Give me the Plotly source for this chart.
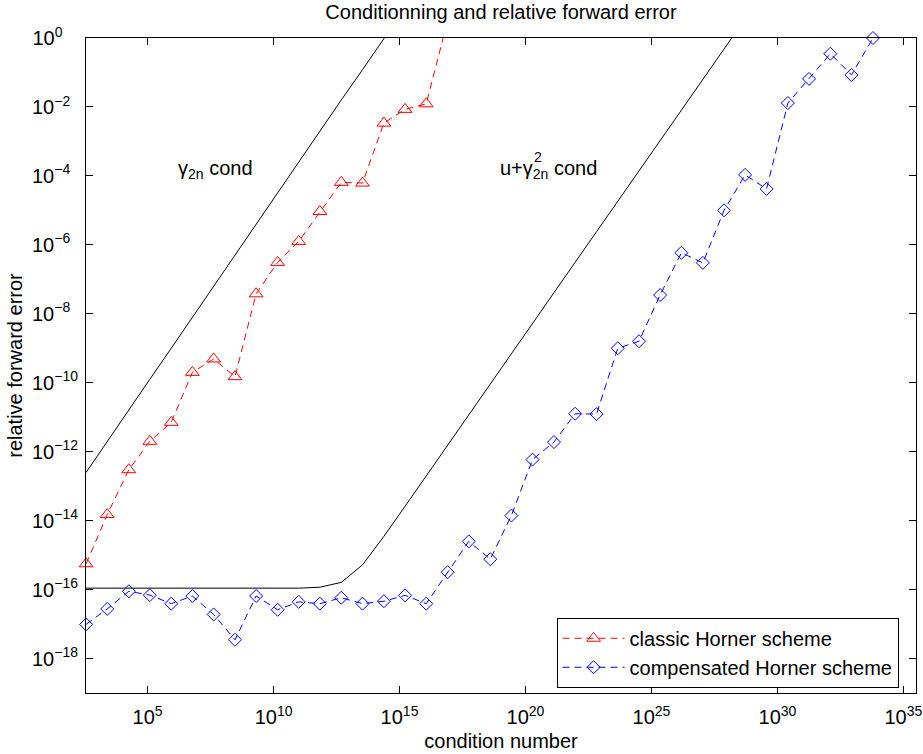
import plotly.graph_objects as go

# condition numbers (x)
cond = [3.63e2, 2.5e3, 1.8e4, 1.23e5, 8.7e5, 6.0e6, 4.2e7, 2.95e8, 2.04e9, 1.45e10,
        1.0e11, 6.9e11, 4.9e12, 3.4e13, 2.4e14, 1.66e15, 1.15e16, 8.1e16, 5.6e17, 4.0e18,
        2.75e19, 1.9e20, 1.35e21, 9.3e21, 6.6e22, 4.6e23, 3.2e24, 2.2e25, 1.55e26, 1.1e27,
        7.6e27, 5.2e28, 3.7e29, 2.6e30, 1.8e31, 1.26e32, 8.7e32, 6.2e33]

# classic Horner scheme relative forward error
classic_err = [5.6e-16, 1.5e-14, 3.0e-13, 2.0e-12, 7.1e-12, 2.0e-10, 4.9e-10, 1.5e-10,
               3.8e-8, 3.1e-7, 1.26e-6, 9.3e-6, 6.5e-5, 6.2e-5, 3.4e-3, 8.5e-3, 1.23e-2, 3.2e0]

# compensated Horner scheme relative forward error
comp_err = [9.8e-18, 2.75e-17, 8.9e-17, 6.9e-17, 3.9e-17, 6.5e-17, 1.9e-17, 3.5e-18,
            6.5e-17, 2.6e-17, 4.4e-17, 3.9e-17, 5.8e-17, 3.9e-17, 4.6e-17, 6.8e-17,
            3.9e-17, 3.2e-16, 2.5e-15, 7.6e-16, 1.4e-14, 5.9e-13, 1.9e-12, 1.26e-11,
            1.23e-11, 1.0e-9, 1.6e-9, 3.5e-8, 5.9e-7, 3.0e-7, 1.0e-5, 1.07e-4, 4.2e-5,
            1.3e-2, 6.5e-2, 3.5e-1, 8.5e-2, 1.0e0]

# a priori bounds
bound_gamma = [2.5e-13, 2.0e-12, 1.6e-11, 1.26e-10, 1.0e-9, 7.9e-9, 6.3e-8, 5.1e-7,
               4.0e-6, 3.2e-5, 2.5e-4, 1.95e-3, 1.6e-2, 1.2e-1, 9.8e-1, 7.6e0]
bound_comp = [1.1e-16, 1.1e-16, 1.1e-16, 1.1e-16, 1.1e-16, 1.1e-16, 1.1e-16, 1.1e-16,
              1.1e-16, 1.1e-16, 1.1e-16, 1.17e-16, 1.62e-16, 5.2e-16, 3.5e-15, 2.6e-14,
              2.0e-13, 1.55e-12, 1.17e-11, 9.1e-11, 6.9e-10, 5.2e-9, 4.1e-8, 3.1e-7,
              2.4e-6, 1.8e-5, 1.4e-4, 1.07e-3, 8.1e-3, 6.3e-2, 4.8e-1, 3.6e0]

x_tickvals = [1e5, 1e10, 1e15, 1e20, 1e25, 1e30, 1e35]
x_ticktext = ["10<sup>5</sup>", "10<sup>10</sup>", "10<sup>15</sup>", "10<sup>20</sup>",
              "10<sup>25</sup>", "10<sup>30</sup>", "10<sup>35</sup>"]
y_tickvals = [1e0, 1e-2, 1e-4, 1e-6, 1e-8, 1e-10, 1e-12, 1e-14, 1e-16, 1e-18]
y_ticktext = ["10<sup>0\u00a0\u00a0\u00a0\u00a0</sup>", "10<sup>\u22122\u00a0\u00a0</sup>",
              "10<sup>\u22124\u00a0\u00a0</sup>", "10<sup>\u22126\u00a0\u00a0</sup>",
              "10<sup>\u22128\u00a0\u00a0</sup>", "10<sup>\u221210</sup>",
              "10<sup>\u221212</sup>", "10<sup>\u221214</sup>", "10<sup>\u221216</sup>",
              "10<sup>\u221218</sup>"]

FONT = "Liberation Sans, Arial, Helvetica, sans-serif"

fig = go.Figure()
fig.add_trace(go.Scatter(x=cond[:len(bound_gamma)], y=bound_gamma, mode="lines",
                         line=dict(color="black", width=1), showlegend=False))
fig.add_trace(go.Scatter(x=cond[:len(bound_comp)], y=bound_comp, mode="lines",
                         line=dict(color="black", width=1), showlegend=False))
fig.add_trace(go.Scatter(x=cond[:len(classic_err)], y=classic_err, mode="lines+markers",
                         name="classic Horner scheme", cliponaxis=False,
                         line=dict(color="#ff0000", width=1, dash="7px,5px"),
                         marker=dict(symbol="triangle-up-open", size=12, color="#ff0000",
                                     line=dict(width=1, color="#ff0000"),
                                     opacity=[1] * (len(classic_err) - 1) + [0])))
fig.add_trace(go.Scatter(x=cond, y=comp_err, mode="lines+markers",
                         name="compensated Horner scheme", cliponaxis=False,
                         line=dict(color="#0000ff", width=1, dash="7px,5px"),
                         marker=dict(symbol="diamond-open", size=10, color="#0000ff",
                                     line=dict(width=1, color="#0000ff"))))

fig.add_annotation(x=6.14, y=-3.8, xref="x", yref="y", text="\u03b3<sub>2n</sub> cond",
                   showarrow=False, xanchor="left", yanchor="middle",
                   font=dict(size=20, color="black", family=FONT))
fig.add_annotation(x=18.92, y=-3.8, xref="x", yref="y", text="u+\u03b3<sub>2n</sub> cond",
                   showarrow=False, xanchor="left", yanchor="middle",
                   font=dict(size=20, color="black", family=FONT))
fig.add_annotation(x=20.27, y=-3.45, xref="x", yref="y", text="2",
                   showarrow=False, xanchor="left", yanchor="middle",
                   font=dict(size=14, color="black", family=FONT))

axis_common = dict(type="log", showline=True, linecolor="black", linewidth=1, mirror="allticks",
                   ticks="inside", ticklen=7, tickcolor="black", tickwidth=1, showgrid=False,
                   zeroline=False, automargin=False, ticklabeloverflow="allow",
                   tickfont=dict(size=20, color="black", family=FONT))

fig.update_xaxes(range=[2.556, 35.5], tickvals=x_tickvals, ticktext=x_ticktext,
                 ticklabelstandoff=6,
                 title=dict(text="condition number", standoff=6,
                            font=dict(size=20, color="black", family=FONT)),
                 **axis_common)
fig.update_yaxes(range=[-19, 0], tickvals=y_tickvals, ticktext=y_ticktext,
                 ticklabelstandoff=3,
                 title=dict(text="relative forward error", standoff=4,
                            font=dict(size=20, color="black", family=FONT)),
                 **axis_common)

fig.update_layout(
    width=923, height=754,
    margin=dict(l=86, r=7, t=38, b=61, autoexpand=False),
    paper_bgcolor="white", plot_bgcolor="white",
    font=dict(family=FONT, size=20, color="black"),
    title=dict(text="Conditionning and relative forward error", xref="paper", x=0.5,
               xanchor="center", yref="container", y=0.984, yanchor="middle",
               font=dict(size=20, color="black", family=FONT)),
    legend=dict(x=0.979, y=0.008, xanchor="right", yanchor="bottom", bgcolor="white",
                bordercolor="black", borderwidth=1, itemwidth=62,
                font=dict(size=20, color="black", family=FONT), tracegroupgap=0),
)

fig.write_html("out.html", config={"displayModeBar": False},
               post_script="document.body.style.margin='0px';document.body.style.padding='0px';")
